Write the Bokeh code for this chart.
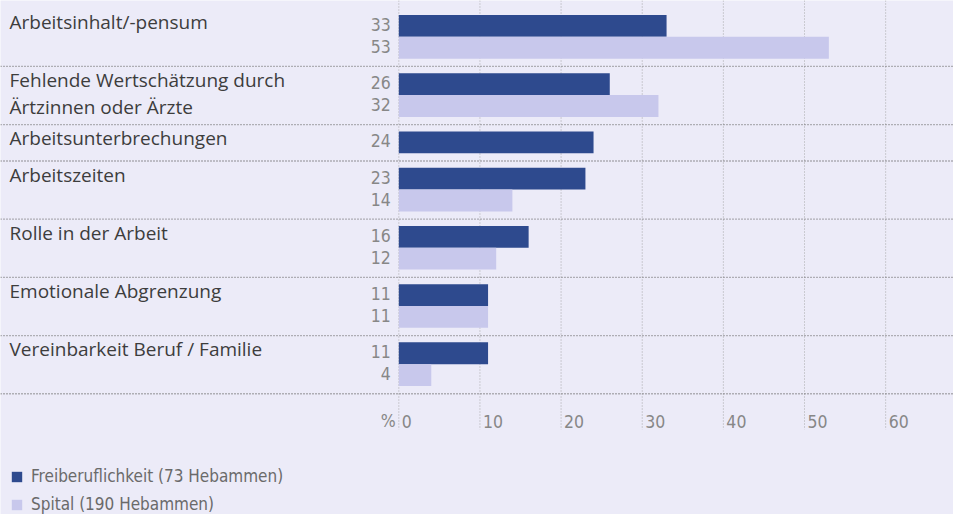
from bokeh.plotting import figure
from bokeh.models import Range1d, Legend, LegendItem, ColumnDataSource
from bokeh.core.properties import value
from bokeh.embed import file_html
from bokeh.resources import INLINE

# ---- data ----
categories = [
    "Arbeitsinhalt/-pensum",
    "Fehlende Wertschätzung durch\nÄrtzinnen oder Ärzte",
    "Arbeitsunterbrechungen",
    "Arbeitszeiten",
    "Rolle in der Arbeit",
    "Emotionale Abgrenzung",
    "Vereinbarkeit Beruf / Familie",
]
freiberuf = [33, 26, 24, 23, 16, 11, 11]
spital = [53, 32, None, 14, 12, 11, 4]
x_ticks = [0, 10, 20, 30, 40, 50, 60]
unit_label = "%"
series_names = ["Freiberuflichkeit (73 Hebammen)", "Spital (190 Hebammen)"]

# ---- style ----
BG = "#ECEBF8"
COLORS = ["#2E4A8E", "#C8C8EC"]
LABEL_FONT = "Open Sans"
NUM_FONT = "DejaVu Sans Condensed"
LABEL_COLOR = "#3d3d3d"
NUM_COLOR = "#878787"

W, H = 953, 514
SX, SY = W / 969, H / 530
PX_PER_UNIT = 8.25 * SX
ZERO_PX = 405 * SX
x_start = -ZERO_PX / PX_PER_UNIT
x_end = (W - ZERO_PX) / PX_PER_UNIT

p = figure(width=W, height=H, x_range=Range1d(x_start, x_end), y_range=Range1d(H, 0),
           output_backend="svg", toolbar_location=None,
           x_axis_location=None, y_axis_location=None, min_border=0)
p.grid.visible = False
p.outline_line_color = None
p.background_fill_color = BG
p.border_fill_color = BG

# ---- layout (pixel-like y units, top = 0) ----
TOP0 = 8 * SY
PAD_T, BAR_H, PAD_B = 7 * SY, 22.5 * SY, 8 * SY
TEXT_SHIFT = 7.5
series = [freiberuf, spital]
bars = [{"y": [], "v": [], "t": []} for _ in series]
lab_y, lab_t = [], []
seps = []
top = TOP0
for i, cat in enumerate(categories):
    y = top + PAD_T
    for k, s in enumerate(series):
        v = s[i]
        if v is None:
            continue
        bars[k]["y"].append(y + BAR_H / 2)
        bars[k]["v"].append(v)
        bars[k]["t"].append(str(v))
        y += BAR_H
    bottom = y + PAD_B
    for j, line in enumerate(cat.split("\n")):
        lab_y.append(top + 22 * SY + j * 28 * SY - TEXT_SHIFT)
        lab_t.append(line)
    seps.append(bottom)
    top = bottom

# vertical dotted grid lines
grid_bottom = seps[-1] + 37 * SY
p.segment(x0=x_ticks, x1=x_ticks, y0=[0] * len(x_ticks), y1=[grid_bottom] * len(x_ticks),
          line_color="#a0a0a0", line_dash="1 2", line_width=0.9)

# horizontal separators
p.segment(x0=[x_start] * len(seps), x1=[x_end] * len(seps), y0=seps, y1=seps,
          line_color="#707070", line_dash="1 2", line_width=1.3)

# bars
renderers = []
for k in range(len(series)):
    src = ColumnDataSource(dict(y=bars[k]["y"], right=bars[k]["v"], t=bars[k]["t"],
                                ty=[yy + 6 - TEXT_SHIFT for yy in bars[k]["y"]]))
    r = p.hbar(y="y", left=0, right="right", height=BAR_H, source=src,
               fill_color=COLORS[k], line_color=None)
    renderers.append(r)
    p.text(x=0, y="ty", text="t", source=src, x_offset=-8, text_align="right",
           text_baseline="alphabetic", text_font=value(NUM_FONT), text_font_size="17.5px",
           text_color=NUM_COLOR)

# category labels
p.text(x=[x_start] * len(lab_t), y=lab_y, text=lab_t, x_offset=9, text_align="left",
       text_baseline="alphabetic", text_font=value(LABEL_FONT), text_font_size="19px",
       text_color=LABEL_COLOR)

# x-axis tick labels
axis_y = seps[-1] + 36 * SY - TEXT_SHIFT
p.text(x=x_ticks, y=[axis_y] * len(x_ticks), text=[str(t) for t in x_ticks], x_offset=3,
       text_align="left", text_baseline="alphabetic", text_font=value(NUM_FONT),
       text_font_size="17.5px", text_color=NUM_COLOR)
p.text(x=[0], y=[axis_y], text=[unit_label], x_offset=-3, text_align="right",
       text_baseline="alphabetic", text_font=value(NUM_FONT), text_font_size="17.5px",
       text_color=NUM_COLOR)

# legend
legend = Legend(items=[LegendItem(label=series_names[k], renderers=[renderers[k]])
                       for k in range(len(series))],
                location=(10, 0), orientation="vertical",
                glyph_width=13, glyph_height=13, label_height=13, label_standoff=8,
                spacing=8, padding=0, margin=0,
                background_fill_alpha=0, border_line_color=None,
                label_text_font=NUM_FONT, label_text_font_size="17px",
                label_text_color="#6a6a6a")
p.add_layout(legend, "center")

open("out.html", "w").write(file_html(p, INLINE))
